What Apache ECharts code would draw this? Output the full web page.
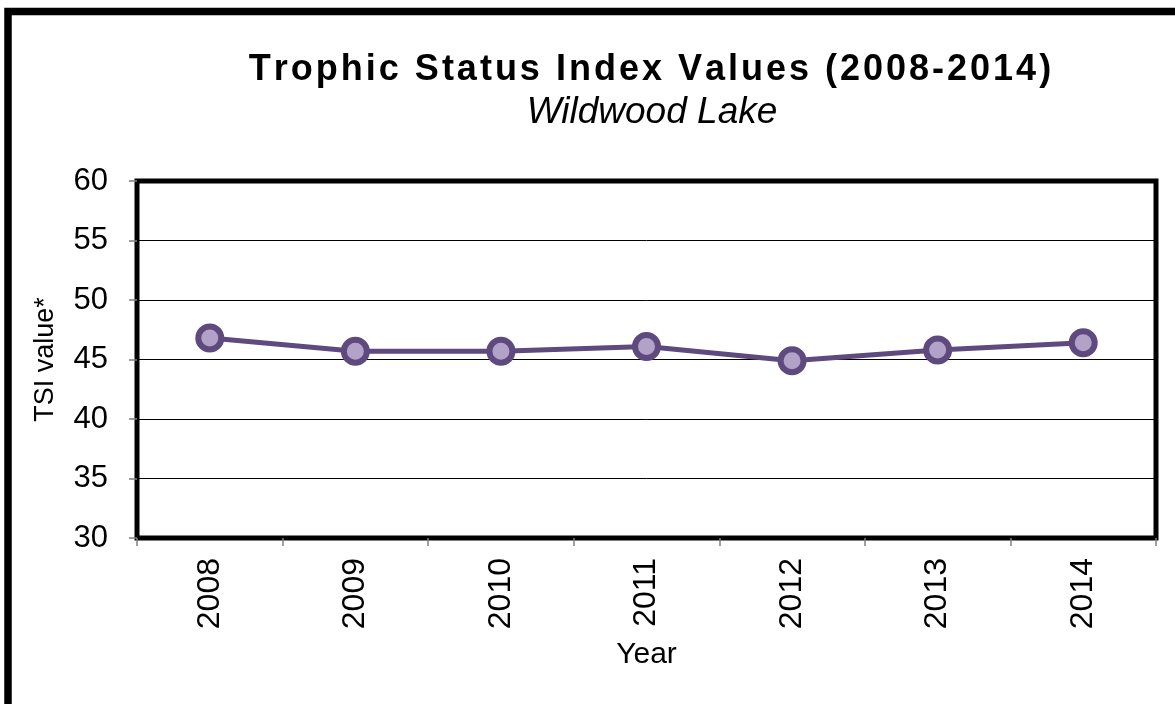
<!DOCTYPE html>
<html>
<head>
<meta charset="utf-8">
<script src="https://cdn.jsdelivr.net/npm/echarts@6/dist/echarts.min.js"></script>
<style>
  html, body { margin: 0; padding: 0; background: #fff; }
  #main { width: 1175px; height: 704px; }
</style>
</head>
<body>
<div id="main"></div>
<script>
// data
var years = ['2008', '2009', '2010', '2011', '2012', '2013', '2014'];
var tsiValues = [46.8, 45.7, 45.7, 46.1, 44.9, 45.8, 46.4];
var yTicks = [30, 35, 40, 45, 50, 55, 60];

var titleText = 'Trophic Status Index Values (2008-2014)';
var subTitleText = 'Wildwood Lake';

// the title is letter spaced, so each char gets its own rich fragment with a bit of padding
var spacedTitle = titleText.split('').map(function (c) {
  return '{c|' + c + '}';
}).join('');

var chartDom = document.getElementById('main');
var myChart = echarts.init(chartDom);
var option;

var lineColor = '#5e4a7e';
var dotColor = '#b2a2c8';
var font = '"Liberation Sans", Arial, sans-serif';

option = {
  backgroundColor: '#fff',
  animation: false,
  title: [
    {
      text: spacedTitle,
      left: 650,
      top: 52,
      textAlign: 'center',
      padding: 0,
      textStyle: {
        rich: {
          c: {
            fontSize: 36,
            fontWeight: 'bold',
            fontFamily: font,
            color: '#000',
            padding: [0, 1.5, 0, 1.5]
          }
        }
      }
    },
    {
      text: subTitleText,
      left: 652,
      top: 94,
      textAlign: 'center',
      padding: 0,
      textStyle: {
        fontSize: 37,
        fontStyle: 'italic',
        fontWeight: 'normal',
        fontFamily: font,
        color: '#000'
      }
    }
  ],
  graphic: [
    {
      // outer chart frame, cut off at the right and bottom like the reference
      type: 'rect',
      z: 100,
      shape: { x: 8, y: 11.5, width: 1400, height: 1000 },
      style: { fill: 'none', stroke: '#000', lineWidth: 7.5 }
    }
  ],
  grid: {
    show: true,
    left: 137,
    right: 19,
    top: 181,
    bottom: 166,
    borderColor: '#000',
    borderWidth: 5,
    backgroundColor: '#fff'
  },
  xAxis: {
    type: 'category',
    data: years,
    boundaryGap: true,
    name: 'Year',
    nameLocation: 'middle',
    nameGap: 102,
    nameTextStyle: { fontSize: 30, fontFamily: font, color: '#000' },
    axisLine: { show: false },
    axisTick: {
      show: true,
      interval: 0,
      length: 8,
      lineStyle: { color: '#808080', width: 1.5 }
    },
    axisLabel: {
      rotate: 90,
      margin: 20,
      fontSize: 32,
      fontFamily: font,
      color: '#000'
    },
    splitLine: { show: false }
  },
  yAxis: {
    type: 'value',
    min: yTicks[0],
    max: yTicks[yTicks.length - 1],
    interval: 5,
    name: 'TSI value*',
    nameLocation: 'middle',
    nameGap: 78,
    nameTextStyle: { fontSize: 27, fontFamily: font, color: '#000' },
    axisLine: { show: false },
    axisTick: {
      show: true,
      length: 8,
      lineStyle: { color: '#808080', width: 1.5 }
    },
    axisLabel: {
      margin: 29,
      fontSize: 31,
      fontFamily: font,
      color: '#000'
    },
    splitLine: { show: true, lineStyle: { color: '#000', width: 1 } }
  },
  series: [
    {
      name: 'TSI',
      type: 'line',
      data: tsiValues,
      symbol: 'circle',
      symbolSize: 23,
      showSymbol: true,
      lineStyle: { color: lineColor, width: 5 },
      itemStyle: { color: dotColor, borderColor: lineColor, borderWidth: 6 },
      z: 5
    }
  ]
};

option && myChart.setOption(option);
</script>
</body>
</html>
